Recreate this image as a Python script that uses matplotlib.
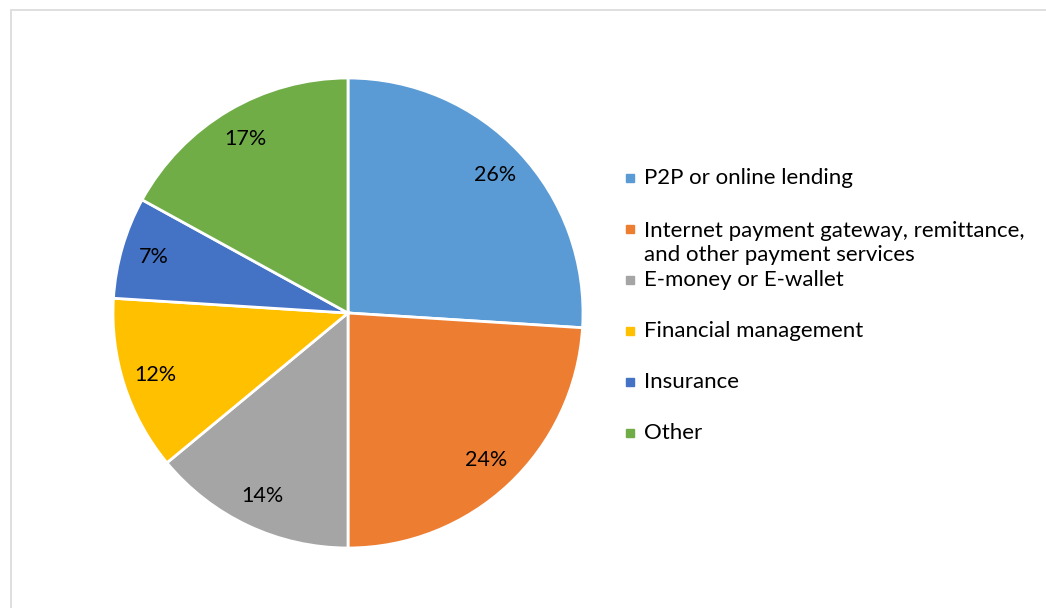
import matplotlib.pyplot as plt
from matplotlib.patches import Rectangle

plt.rcParams['font.family'] = ['Lato', 'DejaVu Sans']

labels = ['P2P or online lending',
          'Internet payment gateway, remittance,\nand other payment services',
          'E-money or E-wallet',
          'Financial management',
          'Insurance',
          'Other']
shares = [26, 24, 14, 12, 7, 17]
colors = ['#5B9BD5', '#ED7D31', '#A5A5A5', '#FFC000', '#4472C4', '#70AD47']

W, H = 1046, 608
fig = plt.figure(figsize=(W / 100, H / 100), dpi=100)

# light frame around the chart area
fig.add_artist(Rectangle((11 / W, -0.01), 1.0, 1 - 10 / H + 0.01,
                         transform=fig.transFigure, fill=False,
                         edgecolor='#D9D9D9', linewidth=1.2))

cx, cy, r = 348, 313, 235
ax = fig.add_axes([(cx - r) / W, (H - cy - r) / H, 2 * r / W, 2 * r / H])
ax.pie(shares, colors=colors, startangle=90, counterclock=False,
       autopct='%1.0f%%', pctdistance=0.86, radius=1,
       wedgeprops=dict(edgecolor='white', linewidth=2),
       textprops=dict(fontsize=15.5, color='black'))
ax.set_xlim(-1, 1)
ax.set_ylim(-1, 1)
ax.set_aspect('equal')
ax.axis('off')

# legend drawn by hand to keep the even spacing of the original
lx, ly0, step = 626, 178, 51
for i, (lab, col) in enumerate(zip(labels, colors)):
    y = ly0 + i * step
    fig.add_artist(Rectangle((lx / W, (H - y - 4) / H), 8 / W, 8 / H,
                             transform=fig.transFigure, color=col))
    ty = y + 14 if '\n' in lab else y
    fig.text((lx + 18) / W, (H - ty) / H, lab, fontsize=16, color='black',
             va='center', ha='left', linespacing=1.28)

fig.savefig('out.png', dpi=100)
